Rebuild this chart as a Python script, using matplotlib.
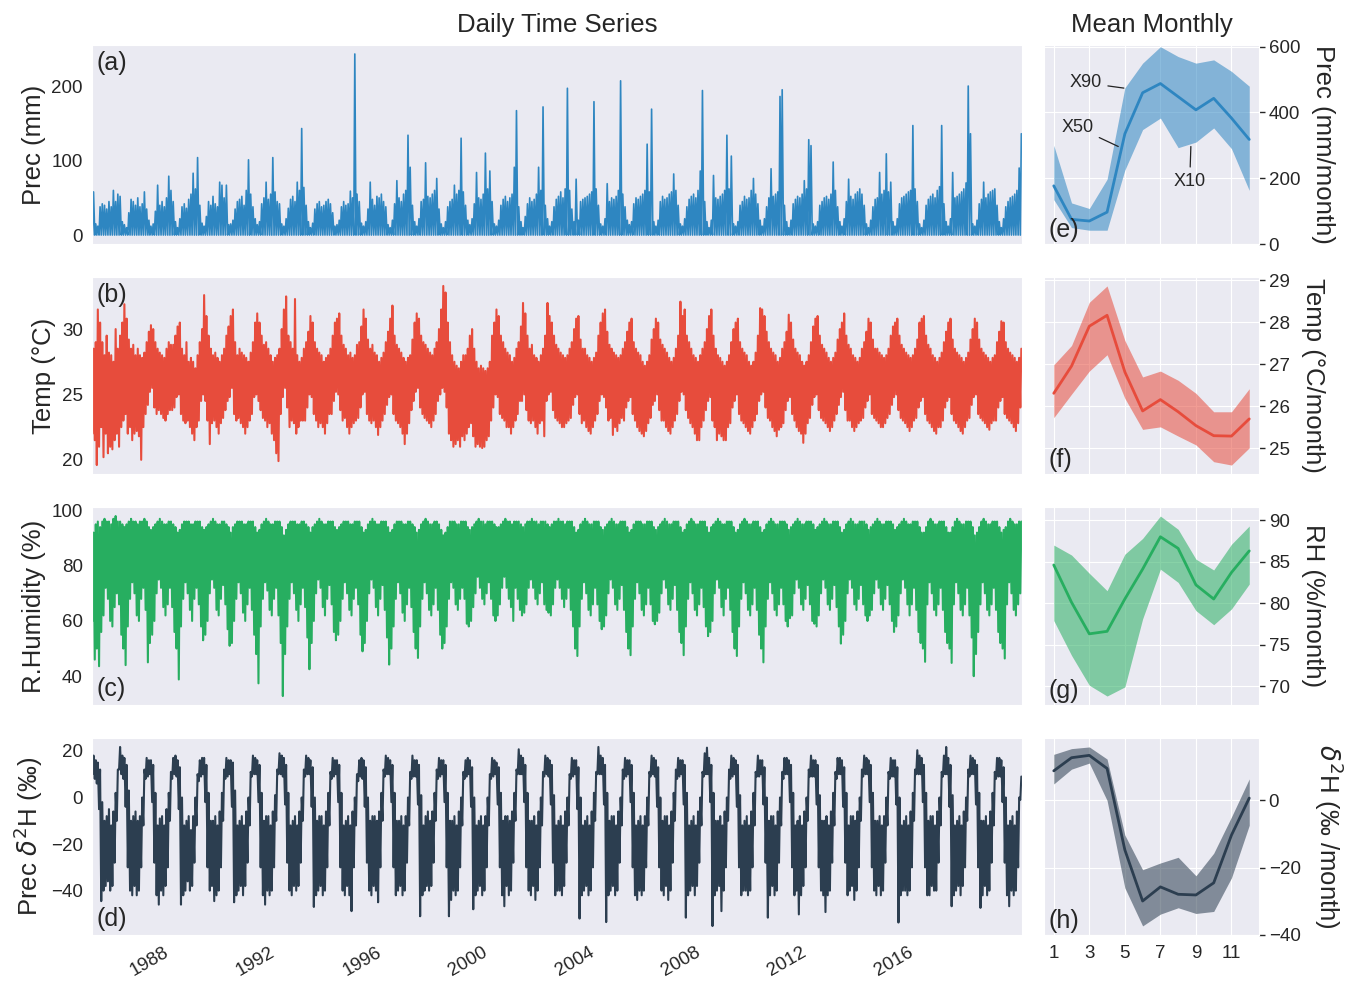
import numpy as np
import pandas as pd
import matplotlib
matplotlib.use('Agg')
import matplotlib.pyplot as plt
import matplotlib.dates as mdates
import seaborn as sns

sns.set_style('darkgrid')
plt.rcParams['font.family'] = ['Liberation Sans', 'DejaVu Sans']

# ---------------- daily series, summarised per month (1985-01 .. 2019-12) ----------------
first_month = '1985-01-01'

# largest daily rainfall in each month (mm), one row per year; dry days give 0
prec_max = [
    [58, 15, 12, 38, 42, 40, 35, 45, 38, 60, 45, 55],
    [52, 18, 14, 10, 30, 48, 45, 40, 50, 38, 42, 58],
    [35, 20, 12, 15, 32, 67, 40, 45, 38, 50, 79, 60],
    [45, 18, 10, 22, 38, 42, 36, 48, 55, 83, 62, 104],
    [40, 16, 12, 25, 45, 40, 52, 42, 38, 71, 67, 50],
    [67, 14, 15, 20, 35, 45, 48, 52, 40, 60, 101, 55],
    [38, 22, 14, 18, 42, 50, 71, 48, 55, 104, 58, 45],
    [42, 15, 12, 22, 36, 48, 52, 45, 71, 60, 143, 64],
    [40, 18, 10, 16, 35, 42, 45, 38, 40, 45, 48, 42],
    [30, 12, 14, 20, 38, 45, 40, 42, 59, 50, 243, 55],
    [45, 16, 12, 18, 35, 71, 48, 40, 52, 50, 55, 45],
    [38, 14, 10, 20, 42, 73, 50, 45, 55, 60, 134, 91],
    [40, 18, 12, 22, 45, 48, 97, 52, 50, 55, 60, 76],
    [35, 15, 10, 18, 38, 45, 48, 67, 55, 60, 130, 58],
    [40, 20, 14, 22, 42, 84, 50, 48, 55, 110, 62, 86],
    [45, 15, 12, 20, 40, 48, 52, 45, 50, 55, 91, 167],
    [38, 18, 10, 25, 42, 50, 45, 48, 55, 91, 60, 172],
    [40, 22, 12, 18, 38, 48, 52, 58, 50, 62, 197, 60],
    [35, 18, 75, 20, 45, 48, 50, 52, 55, 58, 179, 62],
    [40, 15, 12, 22, 69, 45, 50, 48, 52, 60, 207, 55],
    [38, 20, 14, 18, 42, 50, 48, 52, 55, 60, 122, 58],
    [169, 18, 12, 20, 45, 52, 48, 50, 55, 58, 82, 60],
    [40, 15, 12, 22, 38, 48, 52, 55, 50, 60, 86, 194],
    [45, 18, 10, 20, 80, 50, 48, 52, 55, 60, 134, 62],
    [106, 15, 12, 18, 40, 45, 52, 48, 50, 60, 76, 55],
    [42, 20, 12, 22, 38, 50, 89, 52, 55, 58, 186, 195],
    [40, 18, 10, 20, 42, 48, 52, 50, 55, 73, 62, 128],
    [120, 15, 12, 18, 40, 45, 50, 52, 48, 55, 98, 60],
    [38, 18, 12, 22, 45, 75, 52, 48, 55, 58, 62, 55],
    [40, 15, 10, 20, 38, 48, 50, 84, 55, 60, 109, 58],
    [71, 18, 12, 22, 42, 50, 52, 55, 58, 60, 147, 62],
    [45, 15, 10, 20, 40, 48, 52, 55, 50, 60, 65, 147],
    [42, 18, 12, 22, 84, 50, 52, 55, 58, 62, 70, 200],
    [136, 15, 12, 20, 42, 48, 71, 50, 55, 58, 60, 62],
    [40, 18, 10, 22, 38, 45, 50, 52, 55, 60, 90, 136],
]
prec_dry = 0.0

# daily temperature range inside each month (deg C)
temp_hi = [
    [28.5, 29.0, 31.5, 30.5, 29.0, 28.0, 29.5, 28.2, 28.0, 27.5, 30.0, 28.5],
    [29.5, 30.5, 31.9, 30.8, 29.2, 28.5, 28.8, 28.0, 28.5, 28.0, 27.8, 28.2],
    [29.0, 29.8, 30.3, 30.0, 29.0, 28.5, 28.2, 28.0, 27.8, 28.5, 29.0, 28.8],
    [28.8, 29.5, 30.2, 30.5, 28.5, 28.0, 29.0, 27.5, 27.8, 27.5, 27.0, 28.0],
    [29.0, 30.0, 32.6, 31.0, 29.5, 28.5, 28.0, 28.2, 27.8, 27.5, 28.0, 28.5],
    [29.5, 30.2, 31.0, 31.5, 29.0, 28.0, 28.5, 28.2, 28.0, 27.8, 27.5, 28.2],
    [29.0, 30.5, 31.2, 30.5, 29.5, 28.8, 29.0, 28.5, 28.0, 27.5, 27.8, 28.0],
    [28.5, 30.0, 31.5, 32.5, 29.5, 29.0, 28.5, 32.3, 28.0, 27.5, 27.8, 28.5],
    [29.0, 29.8, 31.0, 30.5, 29.0, 28.5, 28.2, 28.0, 27.5, 27.8, 28.0, 28.5],
    [29.5, 30.5, 30.8, 31.2, 29.5, 28.8, 28.5, 28.0, 28.2, 27.8, 28.0, 28.8],
    [29.0, 30.2, 31.5, 30.8, 29.2, 28.5, 28.8, 28.2, 28.0, 27.5, 27.8, 28.2],
    [29.0, 29.8, 30.8, 31.8, 29.5, 28.8, 28.5, 28.2, 27.8, 27.5, 27.8, 28.0],
    [29.2, 30.5, 31.2, 30.8, 29.5, 29.0, 28.8, 28.5, 28.2, 28.0, 28.5, 29.0],
    [30.0, 31.5, 33.3, 32.8, 30.5, 29.0, 28.0, 27.5, 27.2, 27.0, 27.5, 28.0],
    [28.0, 28.5, 29.5, 30.0, 28.5, 27.5, 27.0, 27.2, 27.0, 26.8, 27.0, 27.5],
    [29.5, 30.5, 31.5, 31.0, 29.5, 29.0, 28.5, 28.2, 28.0, 27.5, 27.8, 28.5],
    [29.0, 30.2, 32.0, 31.2, 29.5, 28.5, 28.8, 28.0, 27.8, 27.5, 28.0, 28.5],
    [29.5, 32.0, 31.0, 30.5, 29.5, 28.8, 28.5, 28.2, 28.0, 27.8, 28.0, 28.5],
    [29.0, 30.0, 30.8, 31.0, 29.2, 28.5, 28.5, 28.0, 27.8, 27.5, 27.8, 28.2],
    [29.5, 30.5, 31.2, 31.5, 29.8, 28.8, 28.5, 28.2, 28.0, 27.8, 28.0, 28.5],
    [29.0, 29.8, 30.5, 30.8, 29.0, 28.5, 28.2, 28.0, 27.5, 27.2, 27.5, 28.0],
    [29.2, 30.0, 30.8, 30.5, 29.2, 28.8, 28.5, 28.2, 27.8, 27.5, 27.8, 28.5],
    [29.5, 32.1, 31.0, 31.5, 29.5, 29.0, 28.5, 28.0, 27.8, 27.5, 28.0, 28.5],
    [29.0, 30.0, 31.0, 31.5, 29.5, 28.5, 28.0, 27.8, 27.5, 27.2, 27.5, 28.0],
    [29.0, 30.0, 30.5, 30.8, 29.0, 28.5, 28.2, 28.0, 27.5, 27.2, 27.5, 28.2],
    [29.5, 31.6, 31.5, 31.0, 29.8, 29.0, 28.5, 28.2, 28.0, 27.5, 27.8, 28.5],
    [29.0, 29.8, 31.1, 30.5, 29.2, 28.5, 28.2, 28.0, 27.5, 27.2, 27.5, 28.0],
    [29.0, 30.2, 30.8, 31.0, 29.5, 28.8, 28.5, 28.2, 27.8, 27.5, 27.8, 28.2],
    [29.2, 30.0, 30.5, 31.2, 29.5, 28.8, 28.5, 28.0, 27.8, 27.5, 27.8, 28.5],
    [29.0, 29.8, 30.8, 30.5, 29.2, 28.5, 28.5, 28.2, 28.0, 27.8, 28.0, 28.5],
    [29.5, 30.2, 30.5, 30.8, 29.5, 28.8, 28.5, 28.2, 28.0, 27.8, 28.0, 28.5],
    [29.2, 30.5, 30.8, 31.0, 29.5, 28.8, 28.5, 28.0, 27.8, 27.5, 27.8, 28.2],
    [29.0, 29.8, 30.5, 30.8, 29.2, 28.5, 28.2, 28.0, 27.8, 27.5, 27.8, 28.2],
    [29.2, 30.0, 30.8, 30.5, 29.2, 28.5, 28.2, 28.0, 27.8, 27.5, 27.8, 28.0],
    [29.0, 29.8, 30.6, 30.5, 29.0, 28.5, 28.2, 28.0, 27.8, 27.5, 27.8, 28.5],
]
temp_lo = [
    [22.0, 21.5, 19.6, 21.0, 22.5, 20.2, 22.0, 20.5, 21.0, 20.8, 21.5, 22.0],
    [21.0, 22.5, 23.0, 23.5, 22.0, 22.5, 21.5, 22.0, 22.2, 21.8, 20.0, 22.5],
    [23.5, 24.2, 25.2, 25.5, 24.0, 23.5, 23.8, 23.5, 23.2, 23.0, 23.5, 23.8],
    [23.8, 24.0, 24.8, 25.0, 23.5, 23.0, 22.8, 23.0, 22.5, 22.0, 21.5, 22.5],
    [23.0, 24.5, 25.0, 24.5, 23.0, 21.2, 22.8, 23.0, 22.5, 22.0, 22.8, 23.2],
    [23.8, 24.5, 24.8, 25.5, 23.5, 23.0, 23.2, 22.8, 22.5, 22.0, 22.5, 23.0],
    [23.5, 24.8, 25.0, 24.5, 23.8, 23.2, 23.0, 22.5, 22.8, 22.0, 21.5, 20.5],
    [19.9, 23.5, 24.8, 25.5, 24.0, 22.5, 23.0, 22.8, 22.0, 22.5, 23.0, 23.0],
    [23.0, 24.0, 25.0, 24.8, 23.5, 23.0, 22.5, 22.8, 22.5, 22.0, 22.8, 23.5],
    [23.5, 24.5, 25.2, 25.0, 23.8, 23.0, 23.2, 22.5, 22.0, 22.5, 22.8, 23.0],
    [23.2, 24.0, 25.0, 25.2, 23.5, 23.0, 22.8, 23.0, 22.5, 21.9, 22.5, 23.0],
    [23.5, 24.2, 24.8, 25.0, 23.5, 23.0, 22.8, 22.5, 22.0, 21.2, 22.0, 22.8],
    [23.8, 24.5, 25.2, 25.5, 24.0, 23.5, 23.2, 23.0, 22.8, 22.5, 23.0, 23.5],
    [24.5, 25.0, 25.5, 25.2, 24.0, 22.0, 21.5, 21.0, 21.2, 21.5, 21.0, 21.8],
    [21.5, 22.0, 22.5, 22.8, 21.8, 21.0, 21.2, 21.0, 20.9, 21.0, 21.5, 21.8],
    [23.0, 24.0, 25.0, 24.8, 23.5, 23.2, 23.0, 22.5, 22.5, 22.0, 22.5, 23.0],
    [23.5, 24.5, 24.5, 25.0, 23.8, 23.0, 22.8, 23.0, 22.5, 22.0, 22.8, 23.0],
    [21.8, 24.5, 25.0, 25.2, 23.8, 23.2, 23.0, 22.8, 22.5, 22.5, 22.8, 23.0],
    [23.2, 24.2, 24.8, 25.0, 23.5, 22.8, 23.0, 22.5, 22.2, 22.0, 22.5, 23.0],
    [23.5, 24.5, 25.0, 24.8, 24.0, 23.0, 23.2, 21.9, 22.5, 22.2, 22.8, 23.2],
    [23.0, 24.0, 24.5, 24.8, 23.5, 23.0, 22.5, 22.2, 22.0, 21.8, 22.2, 22.8],
    [23.2, 24.2, 24.5, 25.0, 23.8, 23.0, 23.0, 22.5, 22.2, 22.0, 22.5, 23.0],
    [23.5, 24.5, 25.2, 25.0, 23.8, 23.2, 22.8, 22.5, 22.0, 21.5, 21.5, 22.5],
    [23.0, 23.8, 24.5, 24.8, 23.0, 22.5, 21.5, 22.0, 21.8, 21.5, 21.5, 22.5],
    [22.8, 24.0, 24.5, 25.0, 23.5, 23.0, 22.8, 22.5, 22.2, 22.0, 22.5, 23.0],
    [23.5, 24.5, 25.0, 25.2, 24.0, 23.2, 23.0, 22.5, 22.2, 21.8, 22.3, 22.5],
    [22.8, 23.8, 24.5, 24.8, 23.5, 23.0, 22.5, 22.2, 22.0, 21.3, 22.0, 22.8],
    [23.2, 24.2, 24.8, 25.0, 23.8, 23.2, 23.0, 22.8, 22.5, 22.2, 22.5, 23.0],
    [23.5, 24.2, 24.8, 25.2, 23.8, 23.0, 23.0, 22.5, 22.2, 22.5, 22.8, 23.0],
    [23.2, 24.0, 24.5, 25.0, 23.5, 23.2, 23.0, 22.8, 22.5, 22.5, 22.8, 23.2],
    [23.5, 24.2, 24.8, 25.0, 23.8, 23.2, 23.0, 22.8, 22.5, 22.2, 22.5, 23.0],
    [23.2, 24.0, 24.5, 24.8, 23.5, 23.0, 22.8, 22.5, 22.2, 22.0, 22.5, 22.5],
    [23.0, 24.0, 24.5, 24.8, 23.5, 23.0, 22.8, 22.5, 22.2, 22.0, 22.5, 23.0],
    [23.2, 24.2, 24.8, 25.0, 23.5, 23.2, 23.0, 22.8, 22.5, 22.3, 22.8, 23.0],
    [23.0, 24.0, 24.5, 24.8, 23.5, 23.2, 23.0, 22.8, 22.5, 22.2, 22.8, 24.0],
]

# daily relative humidity range inside each month (%)
rh_hi = [
    [92, 95, 96, 94, 96, 97, 96, 96, 95, 97, 98, 96],
    [96, 95, 94, 95, 96, 97, 96, 96, 95, 96, 96, 97],
    [96, 94, 93, 94, 95, 96, 97, 96, 95, 95, 96, 96],
    [95, 94, 92, 93, 95, 96, 96, 96, 95, 95, 96, 96],
    [96, 94, 93, 94, 95, 96, 97, 96, 95, 95, 96, 96],
    [95, 94, 92, 94, 95, 96, 96, 96, 95, 95, 96, 96],
    [96, 94, 92, 93, 95, 96, 97, 96, 95, 95, 96, 96],
    [96, 94, 91, 93, 95, 96, 96, 96, 95, 95, 96, 96],
    [95, 94, 92, 94, 95, 96, 97, 96, 95, 95, 96, 96],
    [96, 94, 93, 94, 95, 96, 96, 96, 95, 95, 96, 96],
    [96, 94, 92, 93, 95, 96, 97, 96, 95, 95, 96, 96],
    [96, 94, 92, 93, 95, 96, 96, 96, 95, 95, 96, 96],
    [95, 94, 92, 93, 95, 96, 97, 96, 95, 95, 96, 96],
    [95, 93, 91, 92, 94, 96, 96, 96, 95, 95, 96, 96],
    [96, 94, 93, 94, 95, 96, 97, 96, 96, 95, 96, 96],
    [96, 95, 94, 94, 95, 96, 97, 96, 96, 95, 96, 96],
    [96, 95, 94, 95, 96, 96, 97, 96, 96, 95, 96, 96],
    [96, 95, 94, 95, 96, 96, 97, 96, 96, 95, 96, 96],
    [96, 94, 92, 93, 95, 96, 97, 96, 95, 95, 96, 96],
    [96, 94, 93, 94, 95, 96, 97, 96, 95, 95, 96, 96],
    [96, 94, 92, 93, 95, 96, 96, 96, 95, 95, 96, 96],
    [96, 94, 93, 94, 95, 96, 97, 96, 95, 95, 96, 96],
    [96, 94, 92, 93, 95, 96, 97, 96, 95, 95, 96, 96],
    [96, 94, 92, 94, 95, 96, 97, 96, 95, 95, 96, 96],
    [96, 94, 92, 93, 95, 96, 97, 96, 95, 95, 96, 96],
    [96, 94, 92, 93, 95, 96, 97, 96, 95, 95, 96, 96],
    [96, 95, 93, 94, 95, 96, 97, 96, 95, 95, 96, 96],
    [96, 95, 93, 94, 95, 96, 97, 96, 95, 95, 96, 96],
    [96, 94, 92, 93, 95, 96, 97, 96, 95, 95, 96, 96],
    [96, 95, 93, 94, 95, 96, 97, 96, 95, 95, 96, 96],
    [96, 95, 93, 94, 95, 96, 97, 96, 95, 95, 96, 96],
    [96, 94, 92, 92, 94, 96, 97, 96, 95, 95, 96, 96],
    [96, 94, 92, 92, 94, 96, 97, 96, 95, 95, 96, 96],
    [96, 94, 91, 92, 94, 96, 97, 96, 95, 95, 96, 96],
    [96, 94, 92, 93, 94, 96, 97, 96, 95, 95, 96, 96],
]
rh_lo = [
    [60, 46, 50, 43.6, 56, 62, 72, 68, 60, 58, 65, 70],
    [66, 55, 50, 44, 58, 68, 74, 70, 62, 60, 68, 72],
    [64, 45, 52, 55, 60, 70, 75, 72, 65, 62, 66, 72],
    [65, 56, 50, 38.8, 58, 68, 74, 70, 64, 60, 68, 72],
    [66, 58, 53, 55, 60, 70, 75, 72, 64, 62, 68, 73],
    [66, 57, 51, 52, 60, 68, 74, 70, 63, 60, 66, 72],
    [64, 55, 48, 37.4, 58, 68, 74, 71, 64, 62, 68, 72],
    [62, 52, 32.8, 48, 58, 68, 74, 70, 64, 60, 66, 72],
    [65, 54, 42.5, 52, 60, 70, 75, 72, 65, 62, 68, 73],
    [66, 56, 53, 55, 60, 68, 74, 70, 64, 62, 68, 72],
    [66, 55, 49, 52, 60, 70, 75, 72, 65, 62, 68, 73],
    [64, 54, 44.2, 50, 58, 68, 74, 70, 63, 60, 66, 72],
    [65, 56, 50, 46.6, 58, 68, 74, 70, 64, 62, 66, 72],
    [64, 55, 50, 52, 58, 68, 74, 72, 66, 64, 68, 72],
    [68, 59, 58, 60, 65, 70, 76, 72, 68, 66, 70, 74],
    [68, 62, 60, 62, 66, 72, 76, 72, 68, 65, 60, 72],
    [68, 64, 62, 63, 66, 72, 75, 72, 68, 66, 70, 74],
    [66, 64, 63, 62, 66, 72, 75, 72, 68, 65, 68, 72],
    [64, 58, 50, 47.3, 58, 68, 74, 70, 64, 62, 66, 72],
    [66, 60, 57, 58, 62, 70, 75, 72, 66, 64, 68, 73],
    [64, 56, 50, 47.6, 58, 68, 74, 70, 64, 62, 66, 72],
    [66, 60, 58.8, 60, 63, 70, 75, 72, 66, 64, 68, 73],
    [64, 56, 52, 47.6, 58, 68, 74, 70, 64, 62, 66, 72],
    [65, 58, 54.5, 56, 60, 70, 75, 72, 65, 62, 68, 72],
    [64, 56, 50, 47.3, 58, 68, 74, 70, 64, 62, 66, 72],
    [64, 55, 50, 45, 58, 68, 74, 70, 64, 62, 66, 72],
    [66, 60, 58, 61, 62, 70, 75, 72, 66, 64, 68, 73],
    [66, 60, 59, 58, 62, 70, 75, 72, 66, 64, 68, 73],
    [65, 58, 51.8, 55, 60, 70, 75, 72, 66, 64, 68, 73],
    [66, 62, 60, 62, 64, 70, 75, 72, 66, 64, 68, 73],
    [66, 60, 56, 58, 62, 70, 75, 72, 66, 62, 66, 72],
    [64, 56, 52, 50, 45.2, 66, 74, 70, 64, 62, 66, 72],
    [64, 56, 52, 50, 44.8, 66, 74, 70, 64, 62, 66, 72],
    [62, 54, 40, 48, 56, 66, 74, 70, 64, 62, 66, 72],
    [64, 56, 52, 50, 46.4, 66, 74, 70, 64, 62, 66, 70],
]

# daily precipitation delta-2H range inside each month (permil)
d2h_hi = [
    [18, 16, 15, 12, -2, -10, -8, -5, -12, -6, 2, 12],
    [21.7, 18, 17, 14, 3, -10, -8, -6, -10, -8, 0, 12],
    [17, 16, 16, 14, 2, -12, -9, -8, -12, -5, 2, 11],
    [17, 18, 16, 13, 0, -12, -10, -8, -14, -8, 0, 10],
    [16, 17, 17, 14, 2, -10, -10, -8, -12, -6, 2, 12],
    [17, 16, 16, 15, 3, -12, -10, -8, -12, -6, 0, 11],
    [18, 17, 16, 14, 2, -10, -8, -8, -12, -6, 1, 12],
    [19, 18, 17, 14, 2, -12, -10, -8, -12, -6, 0, 12],
    [18, 17, 16, 13, 0, -10, -8, -8, -12, -6, 2, 11],
    [17, 16, 16, 14, 2, -12, -10, -8, -12, -6, 0, 10],
    [16, 17, 16, 13, 0, -10, -8, -8, -10, -6, 2, 12],
    [18, 17, 16, 14, 2, -10, -10, -8, -12, -8, 0, 11],
    [18, 16, 16, 14, 1, -12, -8, -6, -10, -6, 2, 12],
    [17, 16, 16, 14, 2, -10, -10, -8, -12, -6, 0, 11],
    [16, 17, 16, 13, 0, -12, -10, -8, -12, -8, 0, 10],
    [17, 16, 15, 13, 2, -10, -8, -8, -10, -6, 2, 12],
    [20.7, 18, 17, 14, 2, -10, -10, -8, -12, -6, 0, 11],
    [18, 17, 16, 14, 1, -12, -10, -8, -12, -6, 0, 10],
    [17, 16, 16, 13, 0, -12, -10, -8, -12, -6, 2, 11],
    [21.7, 18, 17, 14, 2, -10, -8, -8, -12, -6, 0, 12],
    [17, 16, 16, 14, 2, -12, -10, -8, -12, -8, 0, 11],
    [18, 17, 16, 13, 0, -10, -8, -8, -12, -6, 2, 12],
    [17, 16, 16, 14, 2, -12, -10, -8, -12, -6, 0, 11],
    [19, 21.4, 17, 14, 2, -10, -10, -8, -12, -6, 0, 12],
    [18, 17, 16, 14, 1, -12, -10, -8, -12, -6, 2, 11],
    [18, 16, 16, 13, 0, -10, -8, -8, -12, -6, 0, 11],
    [17, 17, 16, 14, 2, -12, -10, -8, -12, -6, 0, 12],
    [18, 16, 16, 14, 1, -10, -10, -8, -12, -6, 2, 11],
    [17, 17, 16, 13, 2, -12, -8, -8, -10, -6, 0, 12],
    [18, 17, 16, 14, 2, -10, -10, -8, -12, -8, 0, 11],
    [17, 16, 16, 13, 0, -12, -10, -8, -12, -6, 2, 12],
    [20.3, 18, 17, 14, 2, -10, -8, -8, -12, -6, 0, 11],
    [18, 21.7, 17, 14, 1, -12, -10, -8, -12, -6, 0, 12],
    [18, 17, 16, 14, 2, -10, -10, -8, -12, -6, 2, 11],
    [17, 17, 16, 13, 0, -12, -10, -8, -12, -6, 0, 9],
]
d2h_lo = [
    [10, 8, 6, -5, -44.5, -40, -38, -36, -40, -38, -28, -10],
    [12, 10, 8, -4, -30, -40, -42, -38, -42, -40, -30, -12],
    [8, 9, 10, -2, -28, -42, -46, -40, -42, -38, -30, -10],
    [8, 10, 9, -5, -46, -42, -40, -36, -40, -38, -28, -12],
    [7, 9, 10, -2, -30, -40, -38, -44.5, -42, -40, -30, -10],
    [8, 9, 10, -4, -45, -42, -40, -38, -42, -38, -28, -12],
    [9, 10, 10, -2, -30, -42, -46, -40, -42, -40, -30, -10],
    [10, 10, 9, -3, -28, -40, -42, -38, -40, -38, -28, -10],
    [9, 10, 10, -4, -47, -42, -40, -38, -42, -40, -30, -12],
    [8, 9, 10, -2, -30, -40, -42, -38, -42, -48.8, -30, -12],
    [7, 9, 8, -4, -28, -40, -42, -38, -40, -45, -30, -10],
    [9, 10, 10, -2, -30, -42, -40, -38, -42, -40, -28, -12],
    [8, 9, 9, -3, -51, -42, -40, -38, -40, -38, -28, -10],
    [8, 9, 10, -2, -30, -51, -44, -40, -42, -40, -30, -12],
    [8, 9, 10, -4, -48, -42, -40, -38, -42, -40, -30, -12],
    [8, 9, 10, -3, -30, -42, -46.7, -38, -42, -40, -28, -10],
    [10, 10, 10, -2, -30, -40, -42, -38, -44, -40, -30, -12],
    [9, 10, 9, -3, -28, -42, -40, -40, -42, -38, -28, -12],
    [8, 9, 10, -5, -52, -42, -40, -38, -42, -40, -30, -10],
    [10, 10, 10, -3, -53.5, -42, -40, -38, -42, -40, -28, -12],
    [8, 9, 10, -2, -30, -42, -44, -40, -42, -40, -30, -12],
    [9, 10, 9, -4, -30, -40, -42, -38, -44, -40, -28, -10],
    [8, 9, 10, -3, -51.6, -42, -40, -38, -42, -38, -28, -12],
    [9, 10, 10, -2, -55.2, -42, -40, -38, -48.8, -40, -30, -10],
    [8, 9, 10, -4, -30, -42, -40, -40, -42, -40, -30, -12],
    [9, 9, 10, -3, -28, -51.6, -42, -38, -42, -40, -28, -12],
    [8, 10, 10, -2, -30, -42, -40, -50.2, -42, -38, -30, -10],
    [9, 9, 9, -3, -30, -40, -42, -49.2, -42, -40, -28, -12],
    [8, 10, 10, -4, -28, -42, -40, -38, -44, -40, -30, -10],
    [9, 10, 10, -2, -30, -40, -42, -38, -42, -40, -28, -12],
    [8, 9, 9, -3, -53.7, -42, -40, -40, -42, -40, -30, -10],
    [10, 10, 10, -2, -30, -42, -42, -38, -40, -40, -28, -12],
    [9, 10, 10, -4, -46.7, -42, -40, -38, -42, -38, -30, -10],
    [9, 10, 10, -3, -30, -47.4, -42, -38, -42, -40, -28, -12],
    [8, 9, 9, -2, -28, -42, -46.7, -40, -42, -40, -30, -1],
]

# ---------------- monthly statistics (X10 / X50 / X90) ----------------
month_no = [1, 2, 3, 4, 5, 6, 7, 8, 9, 10, 11, 12]
prec_x10 = [135, 50, 42, 42, 225, 348, 383, 293, 310, 353, 290, 163]
prec_x50 = [177, 75, 70, 97, 335, 460, 488, 448, 408, 443, 383, 318]
prec_x90 = [300, 125, 108, 197, 475, 550, 600, 570, 550, 560, 525, 480]
temp_x10 = [25.73, 26.29, 26.84, 27.23, 26.19, 25.45, 25.51, 25.29, 25.08, 24.68, 24.60, 25.01]
temp_x50 = [26.31, 26.96, 27.91, 28.17, 26.82, 25.89, 26.16, 25.87, 25.54, 25.30, 25.29, 25.70]
temp_x90 = [26.99, 27.45, 28.48, 28.87, 27.57, 26.70, 26.84, 26.62, 26.31, 25.87, 25.87, 26.42]
rh_x10 = [77.9, 73.7, 70.1, 68.8, 69.9, 78.1, 84.1, 82.5, 79.1, 77.4, 79.3, 82.3]
rh_x50 = [84.6, 80.1, 76.3, 76.6, 80.5, 84.1, 88.0, 86.6, 82.2, 80.5, 83.7, 86.3]
rh_x90 = [87.0, 85.8, 83.6, 81.5, 85.9, 87.8, 90.5, 88.9, 85.3, 84.0, 87.1, 89.3]
d2h_x10 = [4.9, 9.3, 11.1, 0.0, -26.0, -37.3, -33.8, -31.9, -33.6, -33.0, -23.0, -7.4]
d2h_x50 = [8.8, 12.7, 13.4, 9.5, -14.7, -29.9, -25.7, -27.9, -28.1, -24.5, -10.3, 0.7]
d2h_x90 = [13.7, 15.4, 15.9, 12.3, -10.3, -20.6, -18.6, -16.9, -22.4, -15.7, -4.9, 6.4]

# tick values
prec_ticks = [0, 100, 200]
temp_ticks = [20, 25, 30]
rh_ticks = [40, 60, 80, 100]
d2h_ticks = [-40, -20, 0, 20]
prec_mticks = [0, 200, 400, 600]
temp_mticks = [25, 26, 27, 28, 29]
rh_mticks = [70, 75, 80, 85, 90]
d2h_mticks = [-40, -20, 0]
month_ticks = [1, 3, 5, 7, 9, 11]

blue, red, green, navy = '#2e86c1', '#e74c3c', '#27ae60', '#2c3e50'

months = pd.date_range(first_month, periods=len(prec_max) * 12, freq='MS')
t0 = mdates.date2num(months)


def zigzag(lo, hi):
    # low value early in the month, high value late in the month
    lo = np.broadcast_to(np.ravel(lo) if np.ndim(lo) else lo, t0.shape)
    x = np.column_stack([t0 + 7, t0 + 21]).ravel()
    y = np.column_stack([lo, np.ravel(hi)]).ravel()
    return x, y


fig = plt.figure(figsize=(13.49, 9.84), dpi=100)
rows = [(0.752, 0.2022), (0.5183, 0.2002), (0.2835, 0.2012), (0.0498, 0.2002)]
left = [fig.add_axes([0.0682, b, 0.6894, h]) for b, h in rows]
right = [fig.add_axes([0.7739, b, 0.1594, h]) for b, h in rows]

tick_fs = 13.5
lab_fs = 18.5
pan_fs = 18

# ---- left column: daily series ----
ax = left[0]
x, y = zigzag(prec_dry, prec_max)
ax.plot(x, y, color=blue, lw=1.2)
ax.set_yticks(prec_ticks)
ax.set_ylabel('Prec (mm)', fontsize=lab_fs)

ax = left[1]
x, y = zigzag(temp_lo, temp_hi)
ax.plot(x, y, color=red, lw=1.5)
ax.set_yticks(temp_ticks)
ax.set_ylabel('Temp (°C)', fontsize=lab_fs)

ax = left[2]
x, y = zigzag(rh_lo, rh_hi)
ax.plot(x, y, color=green, lw=1.5)
ax.set_yticks(rh_ticks)
ax.set_ylabel('R.Humidity (%)', fontsize=lab_fs)

ax = left[3]
x, y = zigzag(d2h_lo, d2h_hi)
ax.plot(x, y, color=navy, lw=1.5)
ax.set_yticks(d2h_ticks)
ax.set_ylabel('Prec $\\delta^2$H (‰)', fontsize=lab_fs)

x_end = mdates.date2num(pd.Timestamp('2019-12-31'))
for i, ax in enumerate(left):
    ax.grid(False)
    ax.set_xlim(t0[0], x_end)
    ax.tick_params(labelsize=tick_fs, pad=3)
    if i < 3:
        ax.tick_params(labelbottom=False)

left[0].set_ylim(-12, 255)
left[3].xaxis.set_major_locator(mdates.YearLocator(4))
left[3].xaxis.set_major_formatter(mdates.DateFormatter('%Y'))
plt.setp(left[3].get_xticklabels(), rotation=30, ha='right')

for ax, lab, top in zip(left, ['(a)', '(b)', '(c)', '(d)'], [True, True, False, False]):
    if top:
        ax.text(0.005, 0.97, lab, transform=ax.transAxes, fontsize=pan_fs, va='top', ha='left')
    else:
        ax.text(0.005, 0.02, lab, transform=ax.transAxes, fontsize=pan_fs, va='bottom', ha='left')

# ---- right column: monthly statistics ----
stats = [
    (prec_x10, prec_x50, prec_x90, blue, 'Prec (mm/month)', prec_mticks, '(e)'),
    (temp_x10, temp_x50, temp_x90, red, 'Temp (°C/month)', temp_mticks, '(f)'),
    (rh_x10, rh_x50, rh_x90, green, 'RH (%/month)', rh_mticks, '(g)'),
    (d2h_x10, d2h_x50, d2h_x90, navy, '$\\delta^2$H (‰ /month)', d2h_mticks, '(h)'),
]
for i, (ax, (lo, mid, hi, c, lab, ticks, pan)) in enumerate(zip(right, stats)):
    ax.fill_between(month_no, lo, hi, color=c, alpha=0.55, lw=0)
    ax.plot(month_no, mid, color=c, lw=2)
    ax.set_xticks(month_ticks)
    ax.set_yticks(ticks)
    ax.yaxis.tick_right()
    ax.yaxis.set_label_position('right')
    ax.tick_params(axis='y', right=True, length=4, width=1, color='.15', labelsize=tick_fs, pad=3)
    ax.tick_params(axis='x', labelsize=tick_fs)
    if i < 3:
        ax.tick_params(labelbottom=False)
    ax.set_ylabel(lab, fontsize=lab_fs, rotation=270, va='bottom', labelpad=8)
    ax.text(0.02, 0.01, pan, transform=ax.transAxes, fontsize=pan_fs, va='bottom', ha='left')

right[0].set_ylim(0, 605)

ann = dict(arrowstyle='-', color='#222222', lw=0.9)
right[0].annotate('X90', xy=(5.1, 473), xytext=(2.8, 490), fontsize=13,
                  ha='center', va='center', arrowprops=ann)
right[0].annotate('X50', xy=(4.77, 293), xytext=(2.33, 355), fontsize=13,
                  ha='center', va='center', arrowprops=ann)
right[0].annotate('X10', xy=(8.72, 305), xytext=(8.65, 190), fontsize=13,
                  ha='center', va='center', arrowprops=ann)

fig.text(0.4129, 0.9746, 'Daily Time Series', fontsize=lab_fs, ha='center', va='center')
fig.text(0.854, 0.9746, 'Mean Monthly', fontsize=lab_fs, ha='center', va='center')

fig.savefig('out.png', dpi=100)
